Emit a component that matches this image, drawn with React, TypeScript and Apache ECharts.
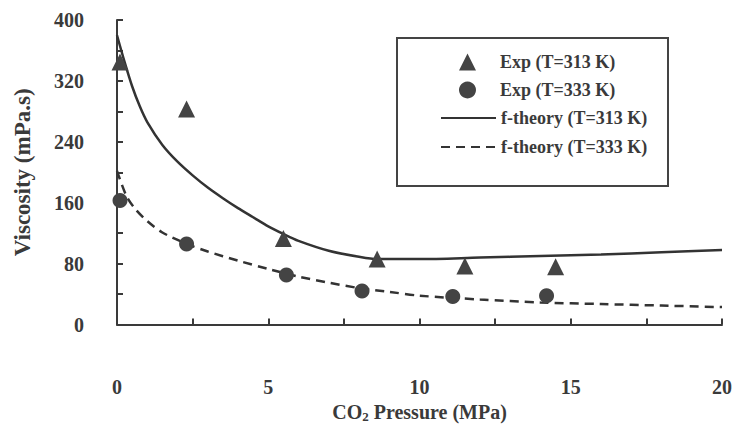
import React, { useEffect, useRef } from "react";
import * as echarts from "echarts";

const exp313: [number, number][] = [
  [0.1, 345], [2.3, 283], [5.5, 113], [8.6, 86], [11.5, 77], [14.5, 76],
];
const exp333: [number, number][] = [
  [0.1, 163], [2.3, 106], [5.6, 65], [8.1, 44], [11.1, 37], [14.2, 38],
];
const theory313: [number, number][] = [
  [0, 380], [0.25, 345], [0.5, 313], [0.75, 287], [1, 266], [1.5, 236], [2, 214],
  [2.5, 196], [3, 180], [3.5, 166], [4, 153], [4.5, 141], [5, 129], [5.5, 119], [6, 110],
  [7, 97], [8, 89], [8.6, 86], [10, 86], [12, 88], [14, 90], [16, 92], [18, 95], [20, 98],
];
const theory333: [number, number][] = [
  [0, 202], [0.3, 170], [0.6, 152], [1, 136], [1.5, 121], [2.3, 106], [3, 96],
  [4, 84], [5, 73], [6, 63], [7, 55], [8, 48], [9, 43], [10, 38], [12, 33],
  [14, 29], [16, 27], [18, 25], [20, 23],
];
const seriesNames = ["Exp (T=313 K)", "Exp (T=333 K)", "f-theory (T=313 K)", "f-theory (T=333 K)"];

const FONT = "Liberation Serif";
const INK = "#3a3a3a";
const MARK = "#444444";

export default function App() {
  const ref = useRef<HTMLDivElement>(null);
  useEffect(() => {
    const chart = echarts.init(ref.current!, null, { renderer: "svg" });
    const legendText = {
      fontFamily: FONT, fontWeight: "bold", fontSize: 18, color: INK, lineHeight: 18,
    };
    chart.setOption({
      animation: false,
      backgroundColor: "#ffffff",
      grid: { left: 117, right: 12, top: 20, bottom: 97 },
      graphic: [
        {
          type: "rect",
          shape: { x: 397, y: 38, width: 271, height: 148 },
          style: { fill: "none", stroke: "#444", lineWidth: 2 },
          z: 10,
        },
      ],
      legend: [
        {
          orient: "vertical",
          left: 459,
          top: 53,
          itemWidth: 17,
          itemHeight: 17,
          itemGap: 10,
          padding: 0,
          textStyle: { ...legendText, padding: [0, 0, 0, 19] },
          data: [seriesNames[0], seriesNames[1]],
        },
        {
          orient: "vertical",
          left: 440,
          top: 109,
          itemWidth: 55,
          itemHeight: 14,
          itemGap: 11,
          padding: 0,
          itemStyle: { color: "rgba(0,0,0,0)", borderWidth: 0 },
          textStyle: legendText,
          data: [seriesNames[2], seriesNames[3]],
        },
      ],
      xAxis: {
        type: "value",
        min: 0,
        max: 20,
        interval: 2.5,
        name: "CO{sub|2} Pressure (MPa)",
        nameLocation: "middle",
        nameGap: 69,
        nameTextStyle: {
          fontFamily: FONT, fontWeight: "bold", fontSize: 20, color: INK, verticalAlign: "top",
          rich: {
            sub: { fontFamily: FONT, fontWeight: "bold", fontSize: 13, color: INK, verticalAlign: "bottom", padding: [10, 0, 0, 0] },
          },
        },
        axisLine: { show: true, onZero: false, lineStyle: { color: INK, width: 2 } },
        axisTick: { show: true, inside: true, length: 6, lineStyle: { color: INK, width: 2 } },
        axisLabel: {
          margin: 52,
          fontFamily: FONT, fontWeight: "bold", fontSize: 20, color: INK,
          formatter: (v: number) => (v % 5 === 0 ? String(v) : ""),
        },
        splitLine: { show: false },
      },
      yAxis: {
        type: "value",
        min: 0,
        max: 400,
        interval: 40,
        name: "Viscosity (mPa.s)",
        nameLocation: "middle",
        nameGap: 83,
        nameTextStyle: { fontFamily: FONT, fontWeight: "bold", fontSize: 23, color: INK },
        axisLine: { show: true, lineStyle: { color: INK, width: 2 } },
        axisTick: { show: true, inside: true, length: 6, lineStyle: { color: INK, width: 2 } },
        axisLabel: {
          margin: 33,
          fontFamily: FONT, fontWeight: "bold", fontSize: 20, color: INK,
          formatter: (v: number) => (v % 80 === 0 ? String(v) : ""),
        },
        splitLine: { show: false },
      },
      series: [
        {
          name: seriesNames[0], type: "scatter", data: exp313,
          symbol: "triangle", symbolSize: 17, itemStyle: { color: MARK, opacity: 1 }, z: 5,
        },
        {
          name: seriesNames[1], type: "scatter", data: exp333,
          symbol: "circle", symbolSize: 15, itemStyle: { color: MARK, opacity: 1 }, z: 5,
        },
        {
          name: seriesNames[2], type: "line", data: theory313, smooth: 0.3,
          symbol: "none", lineStyle: { color: "#333", width: 2.5, type: "solid" },
          itemStyle: { color: "#333" },
        },
        {
          name: seriesNames[3], type: "line", data: theory333, smooth: 0.3,
          symbol: "none", lineStyle: { color: "#333", width: 2.5, type: [9, 6] },
          itemStyle: { color: "#333" },
        },
      ],
    });
    return () => chart.dispose();
  }, []);
  return (
    <div
      ref={ref}
      style={{ position: "fixed", left: 0, top: 0, width: 735, height: 428 }}
    />
  );
}
